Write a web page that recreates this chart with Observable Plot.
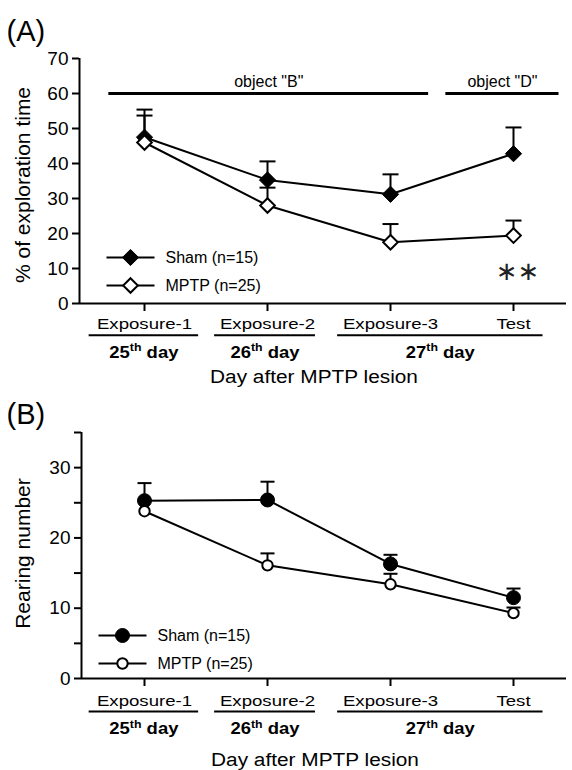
<!DOCTYPE html>
<html><head><meta charset="utf-8">
<script src="https://cdn.jsdelivr.net/npm/d3@7"></script>
<script src="https://cdn.jsdelivr.net/npm/@observablehq/plot@0.6"></script>
<style>
html,body{margin:0;padding:0;background:#fff;}
body{width:572px;height:770px;overflow:hidden;font-family:"Liberation Sans",Arial,sans-serif;}
svg{display:block;overflow:visible;}
</style></head><body><div id="chart"></div>
<script>
// ---------- data ----------
const sessions = ["Exposure-1", "Exposure-2", "Exposure-3", "Test"];
const dayLabels = ["25th day", "26th day", "27th day"];
const dayFirstSession = [0, 1, 2];
const dayLastSession = [0, 1, 3];
const groupLabels = ["Sham (n=15)", "MPTP (n=25)"];
const xTitle = "Day after MPTP lesion";

// Panel A: % of exploration time
const explorationSham = [47.5, 35.3, 31.2, 42.8];
const explorationShamSem = [7.9, 5.3, 5.7, 7.5];
const explorationMptp = [46.0, 28.0, 17.5, 19.4];
const explorationMptpSem = [7.7, 5.1, 5.2, 4.3];
const objectLabels = ['object "B"', 'object "D"'];
const objectFirstSession = [0, 3];
const objectLastSession = [2, 3];
const objectLevel = 60;
const significance = ["", "", "", "\u2217\u2217"];
const yTicksA = [0, 10, 20, 30, 40, 50, 60, 70];

// Panel B: rearing number
const rearingSham = [25.3, 25.4, 16.3, 11.5];
const rearingShamSem = [2.5, 2.6, 1.3, 1.3];
const rearingMptp = [23.8, 16.1, 13.4, 9.3];
const rearingMptpSem = [1.5, 1.7, 1.5, 0.8];
const yTicksB = [0, 5, 10, 15, 20, 25, 30, 35];

// ---------- layout helpers ----------
const W = 572, MR = 6, UNIT = 123, FIRST_TICK = 144;
const xDomain = ml => [-(FIRST_TICK - ml) / UNIT, (W - MR - FIRST_TICK) / UNIT];
const dayPad = [[0.45, 0.44], [0.43, 0.39], [0.43, 0.24]];
const objPad = [[0.29, 0.31], [0.55, 0.37]];
const FONT = '"Liberation Sans", Arial, Helvetica, sans-serif';
const TICK_FS = 15.5;

const hLine = {draw(ctx, size) { const r = Math.sqrt(size / Math.PI); ctx.moveTo(-r, 0); ctx.lineTo(r, 0); }};
function rows(vals, sems) { return vals.map((v, i) => ({i, v, top: v + sems[i]})); }

function build(o) {
  const sham = rows(o.sham, o.shamSem), mptp = rows(o.mptp, o.mptpSem);
  const xd = xDomain(o.ml);
  const dayIdx = d3.range(dayLabels.length);
  const ulX1 = k => dayFirstSession[k] - dayPad[k][0];
  const ulX2 = k => dayLastSession[k] + dayPad[k][1];
  const marks = [
    Plot.ruleX([xd[0]], {strokeWidth: 2}),
    Plot.ruleY([0], {strokeWidth: 2}),
    Plot.axisY({ticks: o.yTicks, tickFormat: o.yFmt, tickSize: 7, tickPadding: 4, fontSize: 19, strokeWidth: 2, label: null}),
    Plot.axisX({ticks: [0, 1, 2, 3], tickFormat: i => sessions[i], tickSize: 8,
      tickPadding: o.tickDy - 8 - 0.71 * TICK_FS, fontSize: TICK_FS, strokeWidth: 2, label: null}),
    // underlines and day labels
    Plot.ruleY(dayIdx, {y: () => 0, x1: ulX1, x2: ulX2, dy: o.ulDy, strokeWidth: 2}),
    Plot.text(dayIdx, {x: k => (ulX1(k) + ulX2(k)) / 2, y: () => 0, dy: o.dayDy, text: k => dayLabels[k],
      fontWeight: "bold", fontSize: 16.5, lineAnchor: "bottom"}),
    Plot.text([xTitle], {frameAnchor: "bottom", text: d => d, dx: -9, dy: o.titleDy, fontSize: 18.6, textAnchor: "middle", lineAnchor: "bottom"}),
    // y title and panel label
    Plot.text([o.yTitle], {frameAnchor: "left", text: d => d, rotate: -90, dx: 23 - o.ml, dy: o.yTitleDy,
      fontSize: 21, textAnchor: "middle", lineAnchor: "middle"}),
    Plot.text([o.panel], {frameAnchor: "top-left", text: d => d, dx: 6 - o.ml, dy: o.panelDy, fontSize: 29,
      textAnchor: "start", lineAnchor: "middle"}),
    ...(o.extra || []),
    // data lines
    Plot.line(sham, {x: "i", y: "v", strokeWidth: 2, stroke: "black"}),
    Plot.line(mptp, {x: "i", y: "v", strokeWidth: 2, stroke: "black"}),
    // error bars (upper SEM)
    Plot.ruleX(sham.concat(mptp), {x: "i", y1: "v", y2: "top", strokeWidth: 2}),
    Plot.dot(sham.concat(mptp), {x: "i", y: "top", symbol: hLine, r: o.capR, stroke: "black", strokeWidth: 2, fill: "none"}),
    // markers
    Plot.dot(sham, {x: "i", y: "v", symbol: o.symbol, r: o.shamR, fill: "black", stroke: "black", strokeWidth: 1}),
    Plot.dot(mptp, {x: "i", y: "v", symbol: o.symbol, r: o.mptpR, fill: "white", stroke: "black", strokeWidth: 2})
  ];
  // legend
  [0, 1].forEach(k => {
    marks.push(Plot.dot([k], {frameAnchor: "bottom-left", dx: o.legX, dy: o.legDy[k], symbol: hLine, r: 24, stroke: "black", strokeWidth: 2, fill: "none"}));
    marks.push(Plot.dot([k], {frameAnchor: "bottom-left", dx: o.legX, dy: o.legDy[k], symbol: o.symbol,
      r: k === 0 ? o.shamR : o.mptpR, fill: k === 0 ? "black" : "white", stroke: "black", strokeWidth: k === 0 ? 1 : 2}));
    marks.push(Plot.text([groupLabels[k]], {frameAnchor: "bottom-left", text: d => d, dx: o.legX + 35, dy: o.legDy[k],
      fontSize: 16, textAnchor: "start", lineAnchor: "middle"}));
  });
  return Plot.plot({
    width: W, height: o.height, marginTop: o.mt, marginBottom: o.mb, marginLeft: o.ml, marginRight: MR,
    x: {domain: xd}, y: {domain: o.yDomain},
    style: {fontFamily: FONT, color: "black", background: "white", overflow: "visible"},
    marks
  });
}

const objIdx = d3.range(objectLabels.length);
const objX1 = k => objectFirstSession[k] - objPad[k][0];
const objX2 = k => objectLastSession[k] + objPad[k][1];

const chartA = build({
  panel: "(A)", panelDy: -27, yTitle: "% of exploration time", yTitleDy: 4,
  height: 392, mt: 58, mb: 89, ml: 79, yDomain: [0, 70], yTicks: yTicksA, yFmt: d => d,
  sham: explorationSham, shamSem: explorationShamSem, mptp: explorationMptp, mptpSem: explorationMptpSem,
  symbol: "diamond2", shamR: 7.3, mptpR: 6.6, capR: 8,
  tickDy: 25, ulDy: 31.7, dayDy: 54, titleDy: 79.4,
  legX: 51, legDy: [-46, -18],
  extra: [
    Plot.ruleY(objIdx, {y: () => objectLevel, x1: objX1, x2: objX2, strokeWidth: 3}),
    Plot.text(objIdx, {x: k => (objX1(k) + objX2(k)) / 2, y: () => objectLevel, dy: -7, text: k => objectLabels[k],
      fontSize: 16, lineAnchor: "bottom"}),
    Plot.text(significance, {x: (d, i) => i, y: () => 0, dx: 4, dy: -32, text: d => d, fontSize: 26,
      fontFamily: "DejaVu Sans", fill: "#222", lineAnchor: "middle"})
  ]
});

const chartB = build({
  panel: "(B)", panelDy: -18, yTitle: "Rearing number", yTitleDy: -2,
  height: 378, mt: 40, mb: 92, ml: 81, yDomain: [0, 35], yTicks: yTicksB, yFmt: d => d % 10 === 0 ? d : "",
  sham: rearingSham, shamSem: rearingShamSem, mptp: rearingMptp, mptpSem: rearingMptpSem,
  symbol: "circle", shamR: 7, mptpR: 5.2, capR: 7,
  tickDy: 27.3, ulDy: 33, dayDy: 55.6, titleDy: 87.3,
  legX: 41, legDy: [-43, -15]
});

// horizontal widening of the x-axis texts (the original typesetting is wider than tall)
function stretch(svg, strings, sx) {
  d3.select(svg).selectAll("text").each(function() {
    if (!strings.has(this.textContent)) return;
    const tr = this.getAttribute("transform");
    if (tr && /translate/.test(tr)) this.setAttribute("transform", tr + ` scale(${sx},1)`);
    else {
      const x = parseFloat(this.getAttribute("x")) || 0, y = parseFloat(this.getAttribute("y")) || 0;
      this.setAttribute("transform", `translate(${x},${y}) scale(${sx},1) translate(${-x},${-y})`);
    }
  });
}
function superscripts(svg) {
  d3.select(svg).selectAll("text").each(function() {
    const m = this.textContent.match(/^(\d+)(th)( day)$/);
    if (!m) return;
    const s = d3.select(this);
    s.text(null);
    s.append("tspan").text(m[1]);
    s.append("tspan").attr("dy", -6.5).attr("font-size", 11).text(m[2]);
    s.append("tspan").attr("dy", 6.5).text(m[3]);
  });
}
for (const c of [chartA, chartB]) {
  stretch(c, new Set(sessions), 1.2);
  stretch(c, new Set(dayLabels.concat([xTitle])), 1.12);
  superscripts(c);
}
document.getElementById("chart").append(chartA, chartB);
</script></body></html>
